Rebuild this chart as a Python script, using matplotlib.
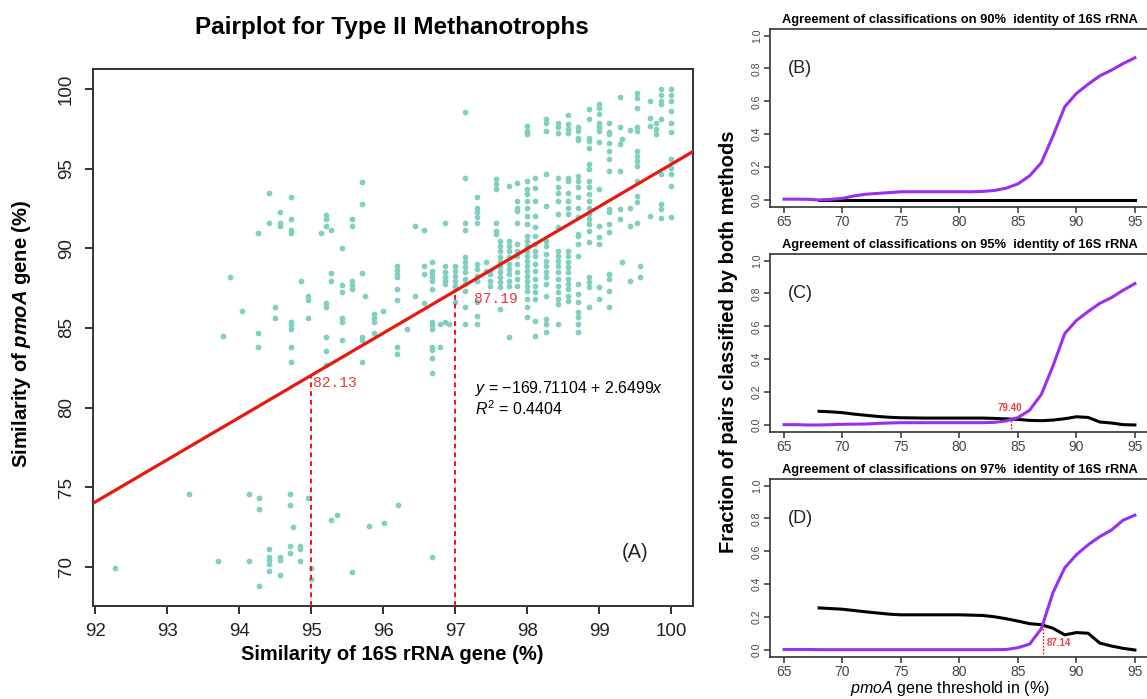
import matplotlib
matplotlib.use('Agg')
import matplotlib.pyplot as plt

plt.rcParams['font.family'] = ['Liberation Sans', 'DejaVu Sans']
plt.rcParams['mathtext.fontset'] = 'custom'
plt.rcParams['mathtext.rm'] = 'Liberation Sans'
plt.rcParams['mathtext.it'] = 'Liberation Sans:italic'
plt.rcParams['mathtext.bf'] = 'Liberation Sans:italic:bold'

# ---- panel A: scatter of 16S vs pmoA similarity (columns of x -> list of y) ----
low_cols = [
    (92.28, [69.93]), (93.30, [74.56]), (93.71, [70.39]), (94.14, [74.56, 70.39]),
    (94.28, [74.31, 73.63, 68.78]), (94.42, [71.10, 70.64, 70.43, 70.18, 69.72]),
    (94.56, [70.64, 70.43, 69.47]), (94.71, [74.56, 73.86, 71.33, 70.85]),
    (94.74, [72.48]), (94.85, [71.33, 71.10, 70.39]), (94.95, [74.31]),
    (95.00, [69.93, 69.24]), (95.28, [72.94]), (95.36, [73.27]), (95.57, [69.68]),
    (95.80, [72.56]), (96.01, [72.79]), (96.21, [73.86]), (96.67, [70.64]),
]

left_cols = [
    (93.78, [84.49]), (93.87, [88.18]), (94.04, [86.09]), (94.26, [90.94, 84.71, 83.80]),
    (94.42, [93.48, 91.62]), (94.50, [86.30, 85.63]), (94.56, [92.31, 91.62, 91.39]),
    (94.72, [93.25, 91.85, 91.16, 90.94, 85.40, 85.17, 84.94, 83.80, 82.88]),
    (94.86, [87.93]), (94.95, [87.01, 86.78, 85.63]), (95.13, [90.94]),
    (95.21, [92.08, 91.85, 91.39, 86.55, 86.30, 84.46, 83.57, 82.65]),
    (95.27, [91.16, 88.43, 87.93]), (95.42, [90.02, 87.72, 87.26, 85.63, 85.40, 84.25]),
    (95.56, [91.85, 91.39, 87.97, 87.72, 87.47]),
    (95.71, [94.17, 92.77, 88.43, 84.46, 84.25, 82.88]), (95.74, [87.01]),
    (95.87, [85.88, 85.63, 85.40, 84.71]), (96.00, [86.09]),
    (96.19, [88.87, 88.64, 88.39, 88.18, 87.47, 86.78, 83.80, 83.34]),
    (96.33, [84.94]), (96.44, [91.39, 87.01]), (96.57, [91.16, 88.87, 88.39, 86.55]),
    (96.67, [89.12, 88.60, 88.39, 88.18, 87.97, 87.47, 85.40, 85.17, 84.94,
             83.80, 83.59, 83.13, 82.19]),
    (96.79, [85.26, 83.80]), (96.91, [85.26]),
]

dense_cols = [
    (96.85, [91.62, 88.91, 88.49, 88.18, 87.97, 87.76, 85.36]),
    (97.00, [88.91, 88.59, 88.28, 87.97, 87.66, 87.55, 86.61]),
    (97.14, [98.58, 94.40, 91.62, 91.16, 89.43, 89.12, 88.80, 88.49, 88.07, 87.76,
             87.34, 86.30, 85.25]),
    (97.30, [93.19, 92.56, 92.25, 91.94, 91.62, 89.01, 88.70, 88.28, 87.97, 86.61,
             85.78, 85.25]),
    (97.42, [89.12, 88.59]),
    (97.48, [88.59, 88.39, 87.97, 87.66]),
    (97.57, [94.34, 94.03, 93.71, 91.62, 91.10, 90.90]),
    (97.62, [90.47, 90.16, 89.85, 89.43, 89.12, 88.80, 88.49, 88.18, 87.86, 87.55, 86.19]),
    (97.75, [93.92, 90.47, 90.16, 89.85, 89.43, 89.01, 88.70, 88.39, 87.97, 87.66, 84.42]),
    (97.86, [94.13, 92.98, 92.56, 92.35, 91.62, 90.26, 89.85, 89.53, 89.01, 88.49,
             88.07, 87.66]),
    (97.99, [97.67, 97.36, 97.15, 94.23, 93.71, 93.40, 92.98, 92.56, 92.04, 91.52,
             90.79, 90.47, 90.16, 89.85, 89.53, 89.22, 88.91, 88.59, 88.28, 87.97,
             87.66, 87.34, 86.82, 86.30, 85.67]),
    (98.10, [94.44, 93.81, 92.98, 92.04, 91.31, 90.78, 90.26, 89.85, 89.53, 89.01,
             88.59, 88.07, 87.66, 87.24, 86.82, 85.46, 84.52]),
    (98.26, [98.10, 97.85, 97.37, 94.65, 92.67, 90.47, 90.16, 89.64, 89.22, 88.91,
             88.49, 88.18, 87.76, 87.03, 85.57, 85.25, 84.73]),
    (98.42, [97.89, 97.64, 97.26, 94.44, 93.82, 93.50, 92.98, 92.15, 91.31, 89.85,
             89.53, 89.22, 88.91, 88.49, 88.07, 87.66, 87.24, 86.82, 86.51, 85.25]),
    (98.56, [98.35, 97.78, 97.46, 97.25, 94.44, 94.23, 93.50, 92.98, 92.56, 92.15,
             89.85, 89.53, 89.12, 88.80, 88.49, 88.07, 87.76, 87.45, 87.03, 86.72]),
    (98.70, [97.64, 97.37, 96.95, 96.80, 94.55, 94.23, 93.82, 93.19, 92.56, 91.94,
             90.89, 90.79, 90.26, 89.50, 87.76, 87.13, 86.61, 85.99, 85.67, 85.25, 84.73]),
]

upper_cols = [
    (98.86, [98.76, 98.10, 96.95, 96.74, 96.32, 95.28, 94.96, 94.23, 93.82, 93.40,
             92.98, 92.56, 92.15, 91.83, 91.52, 91.10, 90.37, 88.18, 87.87, 87.55, 86.30]),
    (99.00, [99.04, 98.82, 98.40, 97.89, 97.64, 97.37, 96.69, 93.70, 91.41, 90.68,
             90.27, 87.55, 86.83]),
    (99.13, [97.89, 97.30, 97.15, 96.64, 96.11, 95.59, 94.86, 92.45, 92.25, 91.52,
             91.00, 88.39, 88.07, 87.34, 86.30]),
    (99.28, [99.50, 97.62, 96.52, 94.86, 92.45, 91.83]),
    (99.31, [96.84, 89.12]),
    (99.43, [97.41, 92.56, 91.42, 87.97]),
    (99.52, [99.72, 99.45, 98.82, 97.64, 97.37, 96.11, 95.80, 95.49, 95.17, 94.23,
             93.30, 92.88, 91.62]),
    (99.57, [88.91, 88.18]),
    (99.70, [99.24, 98.19, 97.67, 92.03]),
    (99.78, [97.89, 97.46, 97.16]),
    (99.85, [99.98, 99.65, 99.24, 99.04, 98.10, 94.64, 92.77, 92.46, 91.93]),
    (100.00, [99.98, 99.65, 99.24, 98.61, 97.89, 97.28, 95.59, 95.07, 94.65, 93.92,
              91.94]),
]

fit_intercept = -169.71104
fit_slope = 2.6499
cut_x = [95, 97]
cut_y = [82.13, 87.19]
cut_lbl_x = [95.02, 97.26]
cut_lbl_y = [81.52, 86.84]

# ---- panels B-D: agreement curves ----
thr_all = [65, 66, 67, 68, 69, 70, 71, 72, 73, 74, 75, 76, 77, 78, 79, 80,
           81, 82, 83, 84, 85, 86, 87, 88, 89, 90, 91, 92, 93, 94, 95]
thr_blk = thr_all[3:]

b_purple = [0.005, 0.005, 0.004, 0.0, 0.004, 0.01, 0.025, 0.035, 0.04, 0.045, 0.05,
            0.05, 0.05, 0.05, 0.05, 0.05, 0.05, 0.052, 0.058, 0.072, 0.098, 0.147,
            0.227, 0.39, 0.567, 0.648, 0.704, 0.755, 0.79, 0.83, 0.865]
b_black = [0.0, 0.0, 0.0, 0.0, 0.0, 0.0, 0.0, 0.0, 0.0, 0.0, 0.0, 0.0, 0.0, 0.0,
           0.0, 0.0, 0.0, 0.0, 0.0, 0.0, 0.0, 0.0, 0.0, 0.0, 0.0, 0.0, 0.0, 0.0]

c_purple = [0.002, 0.002, 0.0, 0.0, 0.002, 0.004, 0.005, 0.006, 0.01, 0.012, 0.014,
            0.014, 0.014, 0.014, 0.014, 0.014, 0.014, 0.014, 0.016, 0.025, 0.045,
            0.09, 0.186, 0.36, 0.556, 0.636, 0.69, 0.74, 0.775, 0.82, 0.86]
c_black = [0.083, 0.080, 0.075, 0.066, 0.059, 0.052, 0.047, 0.044, 0.043, 0.042,
           0.042, 0.042, 0.042, 0.042, 0.042, 0.040, 0.037, 0.034, 0.028, 0.026,
           0.030, 0.038, 0.050, 0.046, 0.018, 0.012, 0.002, 0.0]

d_purple = [0.003, 0.003, 0.003, 0.002, 0.002, 0.002, 0.002, 0.002, 0.002, 0.002,
            0.002, 0.002, 0.002, 0.002, 0.002, 0.002, 0.002, 0.002, 0.002, 0.003,
            0.014, 0.036, 0.13, 0.35, 0.5, 0.58, 0.64, 0.69, 0.73, 0.79, 0.82]
d_black = [0.256, 0.252, 0.248, 0.240, 0.232, 0.225, 0.218, 0.214, 0.214, 0.214,
           0.214, 0.214, 0.214, 0.212, 0.210, 0.202, 0.190, 0.176, 0.160, 0.154,
           0.132, 0.092, 0.106, 0.102, 0.042, 0.024, 0.010, 0.0]

panel_titles = ['Agreement of classifications on 90%  identity of 16S rRNA',
                'Agreement of classifications on 95%  identity of 16S rRNA',
                'Agreement of classifications on 97%  identity of 16S rRNA']
panel_tags = ['(B)', '(C)', '(D)']
cross_x = [None, 84.4, 87.14]
cross_y = [None, 0.035, 0.15]
cross_lbl = [None, '79.40', '87.14']


def flatten(cols):
    xs, ys = [], []
    for x, yl in cols:
        xs += [x] * len(yl)
        ys += yl
    return xs, ys


fig = plt.figure(figsize=(11.47, 6.99), dpi=100)

# ---------- panel A ----------
ax = fig.add_axes([0.0811, 0.1330, 0.5231, 0.7682])
for cols in [low_cols, left_cols, dense_cols, upper_cols]:
    xs, ys = flatten(cols)
    ax.scatter(xs, ys, s=17, color='#80cfc0', linewidths=0, zorder=2)

ax.axline((0, fit_intercept), slope=fit_slope, color='#e8170f', lw=2.3, zorder=3)
ax.set_xlim(91.97, 100.3)
ax.set_ylim(67.55, 101.25)
for cx, cy, lx, ly in zip(cut_x, cut_y, cut_lbl_x, cut_lbl_y):
    ax.plot([cx, cx], [67.55, cy], color='#e8170f', lw=1.4, ls=(0, (2.5, 2)), zorder=3)
    ax.text(lx, ly, '%.2f' % cy, family='Liberation Mono', fontsize=10.5,
            color='#e03a3a', ha='left', va='center', zorder=4)

ax.text(97.27, 81.2, r'$y$ = −169.71104 + 2.6499$x$', fontsize=11.4, ha='left', va='center')
ax.text(97.27, 79.95, r'$R^2$ = 0.4404', fontsize=11.4, ha='left', va='center')
ax.text(99.5, 70.9, '(A)', fontsize=14.5, ha='center', va='center', color='#222222')

ax.set_xticks([92, 93, 94, 95, 96, 97, 98, 99, 100])
ax.set_yticks([70, 75, 80, 85, 90, 95, 100])
ax.tick_params(direction='out', length=6, width=1.3, labelsize=13.5, colors='#222222')
ax.tick_params(axis='x', pad=6)
ax.tick_params(axis='y', pad=7)
for lab in ax.get_yticklabels():
    lab.set_rotation(90)
    lab.set_va('center')
for sp in ax.spines.values():
    sp.set_linewidth(1.4)
    sp.set_color('#333333')

fig.text(0.342, 0.960, 'Pairplot for Type II Methanotrophs', fontsize=17.5,
         fontweight='bold', ha='center', va='center')
fig.text(0.342, 0.063, 'Similarity of 16S rRNA gene (%)', fontsize=14.5,
         fontweight='bold', ha='center', va='center')
fig.text(0.019, 0.522, r'Similarity of $\mathbf{pmoA}$ gene (%)', fontsize=14.5,
         fontweight='bold', ha='center', va='center', rotation=90)

# ---------- panels B-D ----------
tops = [0.9585, 0.6366, 0.3147]
purples = [b_purple, c_purple, d_purple]
blacks = [b_black, c_black, d_black]
for i in range(3):
    a = fig.add_axes([0.6713, tops[i] - 0.2540, 0.3304, 0.2540])
    a.plot(thr_blk, blacks[i], color='black', lw=2.2, zorder=2)
    a.plot(thr_all, purples[i], color='#9b2ff0', lw=2.2, zorder=3)
    a.set_xlim(63.8, 96.2)
    a.set_ylim(-0.04, 1.04)
    a.set_xticks([65, 70, 75, 80, 85, 90, 95])
    a.set_yticks([0.0, 0.2, 0.4, 0.6, 0.8, 1.0])
    a.set_yticklabels(['0.0', '0.2', '0.4', '0.6', '0.8', '1.0'])
    a.tick_params(direction='out', length=4.3, width=1.1, colors='#333333')
    a.tick_params(axis='x', labelsize=10, pad=1.5, labelcolor='#444444')
    a.tick_params(axis='y', labelsize=7.5, pad=1.5, labelcolor='#444444')
    for lab in a.get_yticklabels():
        lab.set_rotation(90)
        lab.set_va('center')
    for sp in a.spines.values():
        sp.set_linewidth(1.2)
        sp.set_color('#333333')
    a.set_title(panel_titles[i], fontsize=9.3, fontweight='bold', pad=4.5)
    a.text(65.3, 0.80, panel_tags[i], fontsize=13, ha='left', va='center', color='#222222')
    if cross_x[i] is not None:
        a.plot([cross_x[i], cross_x[i]], [-0.04, cross_y[i]], color='#e8170f', lw=1.0,
               ls=(0, (1.2, 1.2)), zorder=4)
        if i == 1:
            a.text(cross_x[i] - 0.1, 0.105, cross_lbl[i], fontsize=7, fontweight='bold',
                   color='#e84040', ha='center', va='center')
        else:
            a.text(cross_x[i] + 0.35, 0.04, cross_lbl[i], fontsize=7, fontweight='bold',
                   color='#e84040', ha='left', va='center')

fig.text(0.6347, 0.511, 'Fraction of pairs classified by both methods', fontsize=14.5,
         fontweight='bold', ha='center', va='center', rotation=90)
fig.text(0.828, 0.0157, r'$\it{pmoA}$ gene threshold in (%)', fontsize=11.5,
         ha='center', va='center')

fig.savefig('out.png', dpi=100)
